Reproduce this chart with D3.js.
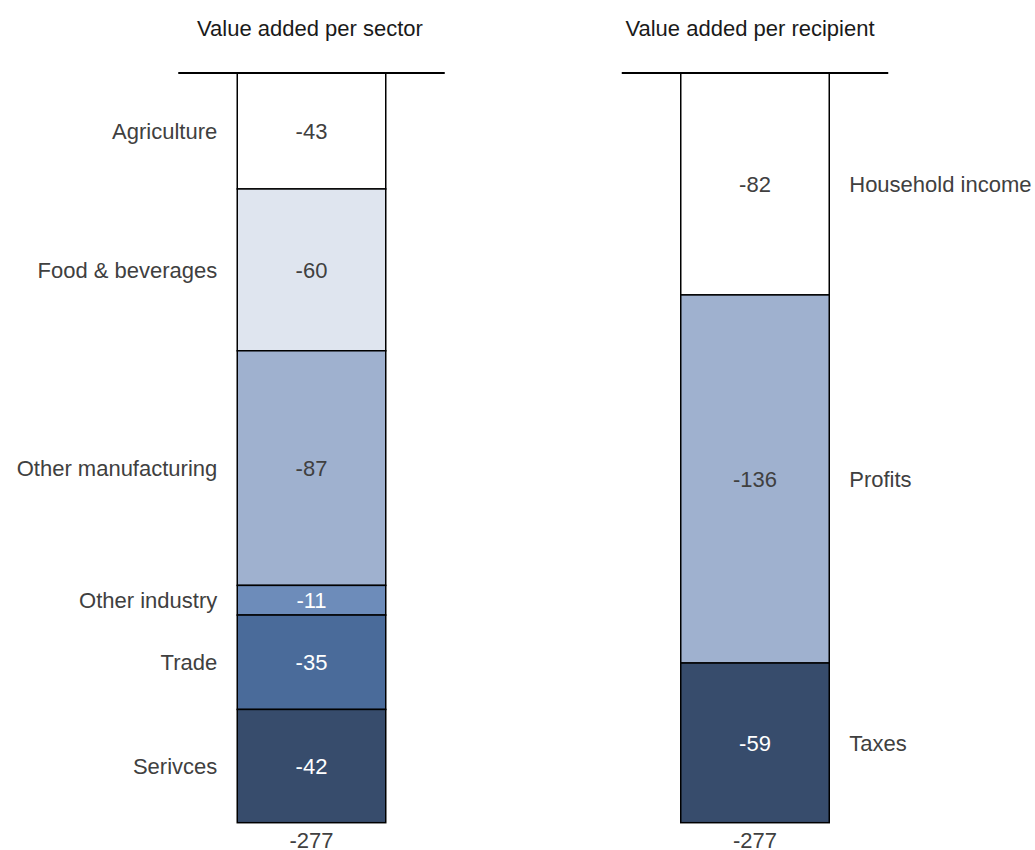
<!DOCTYPE html>
<html>
<head>
<meta charset="utf-8">
<script src="https://cdn.jsdelivr.net/npm/d3@7"></script>
<style>
  html, body { margin: 0; padding: 0; background: #fff; }
  svg text { font-family: "Liberation Sans", Arial, sans-serif; font-size: 22px; }
</style>
</head>
<body>
<svg id="chart" width="1035" height="850"></svg>
<script>
// Value added breakdown: by sector and by recipient
const sectorNames = ["Agriculture", "Food & beverages", "Other manufacturing", "Other industry", "Trade", "Serivces"];
const sectorValues = [-43, -60, -87, -11, -35, -42];
const sectorColors = ["#ffffff", "#dfe5ef", "#9fb1cf", "#6d8cba", "#4a6b9a", "#374c6c"];
const sectorTextColors = ["#404040", "#404040", "#404040", "#ffffff", "#ffffff", "#ffffff"];

const recipientNames = ["Household income", "Profits", "Taxes"];
const recipientValues = [-82, -136, -59];
const recipientColors = ["#ffffff", "#9fb1cf", "#374c6c"];
const recipientTextColors = ["#404040", "#404040", "#ffffff"];

const titles = ["Value added per sector", "Value added per recipient"];
const totalLabels = ["-277", "-277"];

const svg = d3.select("#chart");
const stackTop = 73, stackBottom = 822.7;
const barWidth = 148.5;
const textGray = "#404040";

function drawStack(opts) {
  const { names, values, colors, textColors, cx, title, total, labelSide, titleX } = opts;
  const sum = d3.sum(values, v => Math.abs(v));
  const y = d3.scaleLinear().domain([0, sum]).range([stackTop, stackBottom]);
  const x = d3.scaleBand().domain([title]).range([cx - barWidth / 2, cx + barWidth / 2]).padding(0);

  let acc = 0;
  const segs = values.map((v, i) => {
    const s = { name: names[i], value: v, y0: acc, y1: acc + Math.abs(v), color: colors[i], tc: textColors[i] };
    acc += Math.abs(v);
    return s;
  });

  const g = svg.append("g");

  // title
  g.append("text")
    .attr("x", titleX)
    .attr("y", 36)
    .attr("text-anchor", "middle")
    .attr("fill", "#1a1a1a")
    .text(title);

  // segments
  g.selectAll("rect.seg").data(segs).join("rect")
    .attr("class", "seg")
    .attr("x", x(title))
    .attr("width", x.bandwidth())
    .attr("y", d => y(d.y0))
    .attr("height", d => y(d.y1) - y(d.y0))
    .attr("fill", d => d.color)
    .attr("stroke", "#000")
    .attr("stroke-width", 1.5);

  // top rule spanning beyond the bar
  g.append("line")
    .attr("x1", x(title) - 59).attr("x2", x(title) + x.bandwidth() + 59)
    .attr("y1", stackTop).attr("y2", stackTop)
    .attr("stroke", "#000").attr("stroke-width", 2);

  // value labels inside the segments
  g.selectAll("text.val").data(segs).join("text")
    .attr("class", "val")
    .attr("x", cx)
    .attr("y", d => (y(d.y0) + y(d.y1)) / 2)
    .attr("dy", "0.35em")
    .attr("text-anchor", "middle")
    .attr("fill", d => d.tc)
    .text(d => d.value);

  // category labels beside the bar
  const lx = labelSide === "left" ? x(title) - 20 : x(title) + x.bandwidth() + 20;
  g.selectAll("text.cat").data(segs).join("text")
    .attr("class", "cat")
    .attr("x", lx)
    .attr("y", d => (y(d.y0) + y(d.y1)) / 2)
    .attr("dy", "0.35em")
    .attr("text-anchor", labelSide === "left" ? "end" : "start")
    .attr("fill", textGray)
    .text(d => d.name);

  // total under the bar
  g.append("text")
    .attr("x", cx)
    .attr("y", 848)
    .attr("text-anchor", "middle")
    .attr("fill", textGray)
    .text(total);
}

drawStack({
  names: sectorNames, values: sectorValues, colors: sectorColors, textColors: sectorTextColors,
  cx: 311.5, title: titles[0], total: totalLabels[0], labelSide: "left", titleX: 310
});
drawStack({
  names: recipientNames, values: recipientValues, colors: recipientColors, textColors: recipientTextColors,
  cx: 755, title: titles[1], total: totalLabels[1], labelSide: "right", titleX: 750
});
</script>
</body>
</html>
